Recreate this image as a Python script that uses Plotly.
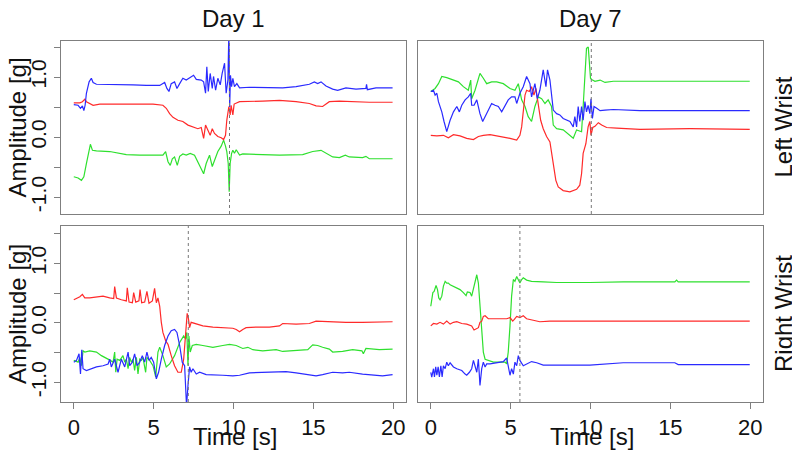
import plotly.graph_objects as go

# ---------------- Day 1, Left Wrist (panel A) ----------------
A_blue_t = [0.0,0.27,0.42,0.54,0.63,0.71,0.79,0.96,1.10,1.21,1.42,2.04,2.88,3.71,4.54,5.38,5.69,5.83,5.96,6.10,6.31,6.46,6.63,6.83,7.04,7.25,7.50,7.67,7.98,8.13,8.25,8.33,8.42,8.54,8.67,8.75,8.88,9.02,9.17,9.29,9.44,9.54,9.65,9.71,9.76,9.81,9.88,9.96,10.06,10.21,10.38,11.0,12.25,13.08,13.92,14.75,15.06,15.27,15.48,15.79,16.21,16.52,17.04,17.67,18.29,18.33,18.38,18.92,19.96]
A_blue_v = [0.54,0.53,0.48,0.52,0.44,0.53,0.73,0.92,0.98,0.91,0.88,0.88,0.87,0.87,0.86,0.86,0.91,0.81,0.76,0.89,0.92,0.81,0.89,0.98,0.95,0.98,1.03,0.96,0.95,0.92,0.73,1.17,0.76,1.06,0.81,1.01,0.78,0.98,0.87,1.06,1.23,0.73,0.95,1.75,0.50,1.03,0.84,0.98,0.84,0.89,0.82,0.83,0.83,0.82,0.84,0.88,0.92,0.89,0.92,0.85,0.80,0.78,0.82,0.80,0.81,0.88,0.79,0.82,0.82]
A_red_t = [0.0,0.38,0.54,0.69,0.79,1.0,1.21,1.63,2.46,3.29,4.13,4.96,5.58,5.79,6.0,6.21,6.52,6.83,7.15,7.35,7.56,7.77,7.98,8.13,8.25,8.40,8.54,8.67,8.81,9.02,9.23,9.38,9.50,9.58,9.71,9.79,9.85,9.96,10.04,10.38,11.0,11.83,12.88,13.92,14.75,15.17,15.58,15.79,16.0,16.63,17.67,18.5,19.96]
A_red_v = [0.57,0.57,0.59,0.63,0.59,0.56,0.53,0.55,0.55,0.56,0.56,0.55,0.53,0.48,0.39,0.33,0.28,0.26,0.20,0.18,0.17,0.14,0.16,-0.02,0.20,0.12,0.03,0.14,0.06,0.01,-0.01,-0.04,0.03,0.28,0.51,0.37,0.53,0.37,0.55,0.59,0.59,0.60,0.61,0.59,0.56,0.52,0.51,0.55,0.59,0.60,0.59,0.58,0.58]
A_green_t = [0.0,0.27,0.48,0.63,0.79,0.96,1.04,1.17,1.42,2.25,2.88,3.29,4.13,4.96,5.58,5.75,5.90,6.04,6.17,6.31,6.48,6.63,6.83,7.04,7.29,7.56,7.77,7.98,8.13,8.29,8.5,8.67,8.81,9.02,9.23,9.38,9.5,9.58,9.67,9.73,9.79,9.88,9.96,10.06,10.17,10.38,10.58,11.42,12.88,14.33,14.96,15.48,15.79,16.21,16.63,17.0,17.25,18.08,18.29,18.5,19.96]
A_green_v = [-0.66,-0.68,-0.72,-0.66,-0.44,-0.19,-0.12,-0.22,-0.23,-0.24,-0.27,-0.29,-0.30,-0.30,-0.30,-0.24,-0.41,-0.47,-0.36,-0.33,-0.47,-0.32,-0.28,-0.30,-0.27,-0.30,-0.41,-0.52,-0.61,-0.44,-0.30,-0.49,-0.38,-0.24,-0.15,-0.05,-0.15,-0.24,-0.44,-0.91,-0.44,-0.27,-0.22,-0.27,-0.21,-0.30,-0.28,-0.29,-0.30,-0.29,-0.24,-0.22,-0.27,-0.33,-0.34,-0.30,-0.33,-0.34,-0.32,-0.36,-0.36]

# ---------------- Day 7, Left Wrist (panel B) ----------------
B_blue_t = [0.0,0.17,0.27,0.38,0.48,0.69,0.83,1.0,1.21,1.42,1.63,1.79,1.94,2.15,2.35,2.5,2.56,2.71,2.88,3.08,3.25,3.40,3.60,3.81,4.02,4.23,4.44,4.65,4.85,5.06,5.27,5.38,5.58,5.79,6.0,6.21,6.31,6.52,6.67,6.83,7.04,7.21,7.31,7.46,7.56,7.67,7.88,8.08,8.29,8.5,8.71,8.92,9.02,9.13,9.23,9.33,9.44,9.54,9.65,9.75,9.85,9.96,10.03,10.12,10.22,10.39,10.6,10.91,11.43,13.1,16.22,19.97]
B_blue_v = [0.76,0.78,0.70,0.73,0.59,0.42,0.26,0.09,0.28,0.42,0.51,0.42,0.53,0.62,0.67,0.73,0.53,0.53,0.62,0.39,0.26,0.34,0.45,0.56,0.53,0.51,0.42,0.53,0.62,0.67,0.67,0.56,0.73,0.84,1.01,0.89,0.67,0.89,0.64,0.78,1.12,0.84,1.12,0.95,0.73,0.45,0.39,0.37,0.31,0.28,0.26,0.17,0.34,0.17,0.51,0.26,0.51,0.28,0.59,0.42,0.53,0.39,0.64,0.31,0.51,0.48,0.44,0.45,0.46,0.44,0.44,0.44]
B_red_t = [0.0,0.38,0.79,1.10,1.42,1.83,2.25,2.67,2.98,3.29,3.71,4.13,4.54,4.96,5.38,5.58,5.69,5.79,5.9,6.0,6.17,6.31,6.46,6.58,6.73,6.88,7.04,7.25,7.46,7.56,7.67,7.83,7.98,8.29,8.71,9.13,9.33,9.44,9.54,9.71,9.85,9.96,10.03,10.14,10.28,10.49,10.7,11.01,11.64,13.1,16.22,19.97]
B_red_v = [0.03,0.02,0.03,-0.01,0.04,0.02,-0.02,-0.04,0.01,0.03,0.04,0.02,0.01,-0.02,-0.05,0.03,0.17,0.45,0.70,0.78,0.76,0.84,0.70,0.81,0.51,0.28,0.14,0.01,-0.08,-0.27,-0.49,-0.72,-0.83,-0.89,-0.91,-0.87,-0.80,-0.61,-0.27,-0.11,0.17,0.26,0.03,0.16,0.18,0.24,0.20,0.16,0.15,0.13,0.14,0.13]
B_green_t = [0.0,0.27,0.48,0.69,1.0,1.31,1.73,2.04,2.35,2.5,2.56,2.77,3.08,3.29,3.5,3.81,4.13,4.54,4.96,5.27,5.48,5.69,5.9,6.1,6.31,6.52,6.73,6.94,7.15,7.35,7.56,7.67,7.88,8.29,8.71,8.92,9.13,9.44,9.54,9.65,9.75,9.86,10.0,10.07,10.28,10.6,10.91,11.43,13.1,16.22,19.97]
B_green_v = [0.76,0.81,0.89,1.01,0.99,0.96,0.92,0.84,0.78,0.95,0.64,0.78,1.06,0.98,0.89,0.92,0.92,0.89,0.81,0.78,0.89,0.62,0.51,0.34,0.26,0.51,0.67,0.64,0.56,0.62,0.51,0.20,0.14,0.12,0.03,-0.02,0.12,0.09,0.51,1.06,1.48,1.50,0.98,0.96,0.93,0.95,0.91,0.93,0.93,0.93,0.93]

# ---------------- Day 1, Right Wrist (panel C) ----------------
C_blue_t = [0.0,0.17,0.33,0.42,0.5,0.58,0.79,1.0,1.42,1.83,2.15,2.25,2.35,2.56,2.77,2.98,3.19,3.40,3.5,3.67,3.81,3.96,4.13,4.29,4.44,4.58,4.71,4.85,5.0,5.17,5.31,5.48,5.69,5.9,6.1,6.31,6.46,6.63,6.79,6.94,7.06,7.15,7.25,7.35,7.46,7.67,7.88,8.29,8.71,9.33,9.96,10.38,11.0,11.83,12.88,13.29,13.92,14.75,15.17,15.58,16.21,16.83,17.25,18.08,18.5,19.33,19.96]
C_blue_v = [-0.66,-0.63,-0.52,-0.86,-0.45,-0.77,-0.80,-0.78,-0.74,-0.72,-0.69,-0.61,-0.74,-0.61,-0.83,-0.61,-0.74,-0.49,-0.72,-0.66,-0.52,-0.72,-0.66,-0.55,-0.66,-0.49,-0.63,-0.58,-0.66,-0.94,-0.83,-0.61,-0.38,-0.22,-0.13,-0.11,-0.16,-0.38,-0.66,-0.72,-1.40,-1.05,-0.74,-0.83,-0.77,-0.86,-0.83,-0.87,-0.87,-0.88,-0.89,-0.88,-0.84,-0.83,-0.83,-0.82,-0.84,-0.87,-0.89,-0.87,-0.83,-0.84,-0.83,-0.86,-0.87,-0.89,-0.87]
C_red_t = [0.0,0.38,0.54,0.69,1.0,1.42,1.83,2.25,2.5,2.56,2.67,2.98,3.29,3.35,3.46,3.67,3.75,3.88,4.08,4.15,4.25,4.44,4.58,4.71,4.92,5.06,5.17,5.27,5.38,5.48,5.58,5.75,5.90,6.10,6.31,6.52,6.73,6.88,7.0,7.10,7.17,7.25,7.35,7.67,8.08,8.71,9.33,9.96,10.17,10.38,10.58,10.79,11.42,12.25,12.88,13.08,13.92,14.75,15.17,16.0,17.04,18.08,19.13,19.96]
C_red_v = [0.39,0.44,0.48,0.42,0.42,0.44,0.45,0.42,0.41,0.61,0.42,0.39,0.37,0.59,0.35,0.34,0.51,0.35,0.37,0.56,0.34,0.35,0.53,0.33,0.37,0.58,0.34,0.42,0.28,0.01,-0.16,-0.30,-0.36,-0.55,-0.72,-0.83,-0.83,-0.61,-0.22,0.16,0.09,-0.08,0.01,-0.02,-0.05,-0.07,-0.08,-0.09,-0.11,-0.15,-0.11,-0.08,-0.07,-0.07,-0.05,-0.01,-0.02,-0.01,0.03,0.02,0.01,0.01,0.01,0.02]
C_green_t = [0.0,0.27,0.38,0.48,0.58,0.69,1.0,1.42,1.73,2.04,2.29,2.46,2.56,2.63,2.71,2.88,3.08,3.19,3.29,3.40,3.5,3.6,3.71,3.81,3.92,4.02,4.13,4.23,4.33,4.5,4.58,4.75,4.96,5.13,5.27,5.38,5.58,5.79,6.0,6.31,6.63,6.88,7.0,7.08,7.15,7.21,7.29,7.42,7.67,8.08,8.71,9.33,9.75,10.17,10.58,10.9,11.21,11.83,12.67,13.08,13.92,14.65,14.96,15.27,15.58,16.0,16.21,16.83,17.46,18.04,18.13,18.29,19.13,19.96]
C_green_v = [-0.63,-0.66,-0.58,-0.72,-0.47,-0.49,-0.47,-0.49,-0.55,-0.59,-0.63,-0.66,-0.49,-0.83,-0.61,-0.63,-0.55,-0.66,-0.61,-0.77,-0.58,-0.66,-0.61,-0.80,-0.58,-0.86,-0.61,-0.63,-0.58,-0.83,-0.58,-0.63,-0.72,-0.91,-0.49,-0.41,-0.55,-0.74,-0.69,-0.55,-0.33,-0.22,-0.27,-0.16,-0.72,-0.22,-0.49,-0.38,-0.36,-0.38,-0.41,-0.38,-0.36,-0.38,-0.43,-0.41,-0.45,-0.47,-0.45,-0.48,-0.47,-0.45,-0.37,-0.38,-0.41,-0.44,-0.49,-0.48,-0.45,-0.47,-0.52,-0.43,-0.45,-0.44]

# ---------------- Day 7, Right Wrist (panel D) ----------------
D_blue_t = [0.0,0.06,0.17,0.23,0.31,0.38,0.46,0.54,0.63,0.71,0.79,0.9,1.0,1.1,1.21,1.42,1.63,1.94,2.15,2.25,2.42,2.56,2.67,2.77,2.88,2.98,3.08,3.19,3.29,3.40,3.5,3.71,4.13,4.54,4.75,4.85,4.96,5.06,5.17,5.27,5.38,5.48,5.58,5.79,6.0,6.31,6.63,7.04,7.88,9.96,12.05,15.28,15.49,19.97]
D_blue_v = [-0.83,-0.91,-0.77,-0.91,-0.74,-0.88,-0.74,-0.91,-0.72,-0.91,-0.72,-0.77,-0.66,-0.72,-0.67,-0.74,-0.77,-0.80,-0.86,-0.88,-0.83,-0.77,-0.63,-0.72,-0.83,-0.61,-1.05,-0.77,-0.66,-0.74,-0.69,-0.69,-0.67,-0.65,-0.59,-0.72,-0.88,-0.77,-0.86,-0.66,-0.72,-0.55,-0.63,-0.72,-0.69,-0.65,-0.67,-0.71,-0.71,-0.71,-0.67,-0.67,-0.70,-0.70]
D_red_t = [0.0,0.17,0.38,0.58,0.79,1.0,1.21,1.42,1.63,1.94,2.25,2.56,2.71,2.88,2.98,3.08,3.19,3.29,3.40,3.60,3.92,4.33,4.75,4.96,5.13,5.23,5.38,5.58,5.79,6.0,6.31,6.83,7.46,8.5,9.96,12.05,14.14,19.97]
D_red_v = [-0.05,-0.01,-0.02,0.01,-0.02,0.03,-0.02,0.01,0.02,-0.01,-0.02,-0.05,-0.12,-0.09,-0.08,0.01,0.03,0.11,0.12,0.07,0.07,0.06,0.07,0.09,0.03,0.06,0.11,0.09,0.12,0.07,0.05,0.02,0.03,0.03,0.04,0.04,0.03,0.03]
D_green_t = [0.0,0.06,0.13,0.21,0.27,0.33,0.42,0.5,0.58,0.69,0.79,0.9,1.0,1.1,1.21,1.42,1.63,1.83,2.04,2.21,2.29,2.46,2.56,2.67,2.77,2.88,2.98,3.08,3.19,3.29,3.40,3.6,3.92,4.33,4.65,4.75,4.85,4.96,5.06,5.17,5.27,5.38,5.48,5.58,5.69,5.79,6.0,6.31,7.04,7.88,9.96,12.05,15.28,15.39,15.49,19.97]
D_green_v = [0.28,0.42,0.51,0.53,0.59,0.63,0.56,0.42,0.39,0.45,0.62,0.70,0.67,0.67,0.64,0.61,0.59,0.56,0.51,0.46,0.52,0.51,0.45,0.56,0.70,0.81,0.67,0.28,-0.16,-0.49,-0.61,-0.63,-0.66,-0.66,-0.66,-0.69,-0.49,-0.05,0.45,0.73,0.70,0.78,0.72,0.67,0.73,0.76,0.72,0.70,0.69,0.68,0.68,0.69,0.69,0.72,0.69,0.69]

# event markers (dotted vertical lines), seconds
event_t = [9.75, 10.05, 7.17, 5.58]

col_titles = ["Day 1", "Day 7"]
row_titles = ["Left Wrist", "Right Wrist"]
x_ticks = [0, 5, 10, 15, 20]
y_ticks = [-1.0, -0.5, 0.0, 0.5, 1.0, 1.5]
y_ticktext = ["-1.0", "", "0.0", "", "1.0", ""]

RED, GREEN, BLUE = "#ff2a2a", "#2ee02e", "#2a2aff"
FONT = "Liberation Sans, Arial, sans-serif"

panels = [
    (A_blue_t, A_blue_v, A_red_t, A_red_v, A_green_t, A_green_v),
    (B_blue_t, B_blue_v, B_red_t, B_red_v, B_green_t, B_green_v),
    (C_blue_t, C_blue_v, C_red_t, C_red_v, C_green_t, C_green_v),
    (D_blue_t, D_blue_v, D_red_t, D_red_v, D_green_t, D_green_v),
]

# page body has an 8px default margin; the figure is sized/offset to compensate
OFF = 8
W, H = 800 - OFF, 450 - OFF
boxes = [(61, 406, 41, 214), (418, 763, 41, 214), (61, 406, 226, 402), (418, 763, 226, 402)]
yranges = [[-1.28, 1.6], [-1.28, 1.6], [-1.33, 1.63], [-1.33, 1.63]]

def px(x):
    return (x - OFF) / W

def py(y):
    return 1 - (y - OFF) / H

fig = go.Figure()
layout = {}
for i, (p, box) in enumerate(zip(panels, boxes)):
    n = i + 1
    xa = "x" if n == 1 else f"x{n}"
    ya = "y" if n == 1 else f"y{n}"
    bt, bv, rt, rv, gt, gv = p
    for tt, vv, c in ((gt, gv, GREEN), (rt, rv, RED), (bt, bv, BLUE)):
        fig.add_trace(go.Scatter(x=tt, y=vv, mode="lines", line=dict(color=c, width=1.2),
                                 xaxis=xa, yaxis=ya, showlegend=False, hoverinfo="skip"))
    x0, x1, y0, y1 = box
    show_x = n in (3, 4)
    show_y = n in (1, 3)
    layout[f"xaxis{'' if n == 1 else n}"] = dict(
        domain=[px(x0), px(x1)], range=[-0.8, 20.8], anchor=ya,
        showline=True, mirror=True, linecolor="#7f7f7f", linewidth=1,
        showgrid=False, zeroline=False,
        ticks="outside" if show_x else "", ticklen=6, tickcolor="#7f7f7f",
        tickvals=x_ticks, showticklabels=show_x,
        tickfont=dict(family=FONT, size=22, color="#111"))
    layout[f"yaxis{'' if n == 1 else n}"] = dict(
        domain=[py(y1), py(y0)], range=yranges[i], anchor=xa,
        showline=True, mirror=True, linecolor="#7f7f7f", linewidth=1,
        showgrid=False, zeroline=False,
        ticks="outside" if show_y else "", ticklen=6, tickcolor="#7f7f7f",
        tickvals=y_ticks, ticktext=y_ticktext, showticklabels=show_y, tickangle=-90,
        tickfont=dict(family=FONT, size=21, color="#111"))

shapes = []
for i, et in enumerate(event_t):
    n = i + 1
    shapes.append(dict(type="line", xref="x" if n == 1 else f"x{n}",
                       yref=("y" if n == 1 else f"y{n}") + " domain",
                       x0=et, x1=et, y0=0, y1=1,
                       line=dict(color="#777", width=1, dash="dot")))

ann = []
fnt = dict(family=FONT, size=24, color="#111")
for j, ttl in enumerate(col_titles):
    cx = (boxes[j][0] + boxes[j][1]) / 2
    ann.append(dict(text=ttl, x=px(cx), y=py(18), xref="paper", yref="paper",
                    showarrow=False, font=fnt, xanchor="center", yanchor="middle",
                    borderpad=0))
    ann.append(dict(text="Time [s]", x=px(cx + 1), y=py(436), xref="paper", yref="paper",
                    showarrow=False, font=fnt, xanchor="center", yanchor="middle"))
for r, ttl in enumerate(row_titles):
    b = boxes[2 * r]
    cy = (b[2] + b[3]) / 2
    ann.append(dict(text=ttl, x=px(783), y=py(cy), xref="paper", yref="paper",
                    showarrow=False, font=fnt, textangle=-90, xanchor="center", yanchor="middle"))
    ann.append(dict(text="Amplitude [g]", x=px(17), y=py(cy), xref="paper", yref="paper",
                    showarrow=False, font=fnt, textangle=-90, xanchor="center", yanchor="middle",
                    borderpad=0))

fig.update_layout(width=W, height=H, margin=dict(l=0, r=0, t=0, b=0),
                  paper_bgcolor="white", plot_bgcolor="white",
                  shapes=shapes, annotations=ann, **layout)
fig.write_html("out.html")
